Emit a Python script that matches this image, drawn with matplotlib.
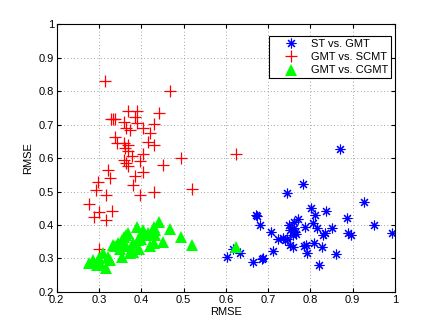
import matplotlib
matplotlib.use("Agg")
import matplotlib.pyplot as plt

plt.rcParams['font.family'] = ['Liberation Sans', 'DejaVu Sans']

# ST vs. GMT (blue asterisks)
st_x = [0.871, 0.783, 0.745, 0.927, 0.802, 0.836, 0.811, 0.886, 0.771, 0.760,
        0.807, 0.951, 0.750, 0.815, 0.787, 0.850, 0.752, 0.763, 0.758, 0.767,
        0.706, 0.890, 0.896, 0.994, 0.830, 0.835, 0.724, 0.736, 0.744, 0.740,
        0.751, 0.758, 0.784, 0.789, 0.809, 0.828, 0.791, 0.860, 0.712, 0.821,
        0.671, 0.673, 0.681, 0.602, 0.618, 0.634, 0.664, 0.685, 0.689, 0.760]
st_y = [0.626, 0.522, 0.497, 0.469, 0.450, 0.442, 0.430, 0.421, 0.418, 0.410,
        0.407, 0.399, 0.400, 0.392, 0.395, 0.392, 0.385, 0.380, 0.370, 0.372,
        0.380, 0.377, 0.370, 0.375, 0.370, 0.375, 0.357, 0.360, 0.358, 0.356,
        0.340, 0.333, 0.337, 0.340, 0.345, 0.333, 0.317, 0.313, 0.323, 0.280,
        0.430, 0.428, 0.400, 0.303, 0.327, 0.315, 0.290, 0.297, 0.300, 0.390]

# GMT vs. SCMT (red plus)
scmt_x = [0.314, 0.469, 0.369, 0.389, 0.441, 0.328, 0.334, 0.338, 0.358, 0.385,
          0.389, 0.429, 0.405, 0.365, 0.373, 0.421, 0.417, 0.429, 0.338, 0.342,
          0.358, 0.369, 0.362, 0.369, 0.377, 0.405, 0.495, 0.625, 0.358, 0.365,
          0.369, 0.397, 0.451, 0.405, 0.385, 0.322, 0.326, 0.381, 0.297, 0.293,
          0.429, 0.397, 0.317, 0.521, 0.277, 0.299, 0.330, 0.288, 0.317, 0.301]
scmt_y = [0.830, 0.802, 0.741, 0.741, 0.734, 0.718, 0.718, 0.716, 0.709, 0.724,
          0.704, 0.701, 0.689, 0.689, 0.684, 0.676, 0.649, 0.639, 0.664, 0.644,
          0.644, 0.639, 0.629, 0.620, 0.605, 0.612, 0.600, 0.612, 0.595, 0.585,
          0.575, 0.590, 0.580, 0.557, 0.545, 0.565, 0.540, 0.520, 0.530, 0.505,
          0.500, 0.490, 0.490, 0.508, 0.462, 0.439, 0.443, 0.423, 0.415, 0.327]

# GMT vs. CGMT (green triangles)
cgmt_x = [0.277, 0.287, 0.299, 0.295, 0.302, 0.310, 0.317, 0.322, 0.326, 0.334,
          0.338, 0.346, 0.354, 0.354, 0.358, 0.365, 0.369, 0.365, 0.373, 0.377,
          0.381, 0.389, 0.393, 0.397, 0.405, 0.417, 0.421, 0.425, 0.429, 0.433,
          0.429, 0.441, 0.433, 0.451, 0.469, 0.495, 0.521, 0.625, 0.380, 0.395,
          0.349, 0.410, 0.400]
cgmt_y = [0.286, 0.296, 0.300, 0.280, 0.286, 0.315, 0.271, 0.305, 0.296, 0.340,
          0.336, 0.345, 0.305, 0.355, 0.365, 0.370, 0.375, 0.336, 0.315, 0.330,
          0.345, 0.393, 0.355, 0.365, 0.385, 0.375, 0.336, 0.370, 0.395, 0.385,
          0.345, 0.410, 0.370, 0.350, 0.388, 0.365, 0.339, 0.334, 0.320, 0.328,
          0.328, 0.370, 0.358]

ticks = [0.2, 0.3, 0.4, 0.5, 0.6, 0.7, 0.8, 0.9, 1]
tick_labels = ['0.2', '0.3', '0.4', '0.5', '0.6', '0.7', '0.8', '0.9', '1']

fig = plt.figure(figsize=(4.36, 3.28), dpi=100)
ax = fig.add_axes([0.130, 0.110, 0.776, 0.816])

ax.plot(st_x, st_y, linestyle='none', marker=(8, 2, 0), color='#0000ff',
        markersize=7, markeredgewidth=0.8, label='ST vs. GMT')
ax.plot(scmt_x, scmt_y, linestyle='none', marker='+', color='#ff0000',
        markeredgecolor='#ff0000', markersize=8, markeredgewidth=0.9,
        label='GMT vs. SCMT')
ax.plot(cgmt_x, cgmt_y, linestyle='none', marker='^', color='#00ff00',
        markersize=9, markeredgewidth=0, label='GMT vs. CGMT')

ax.set_xlim(0.2, 1)
ax.set_ylim(0.2, 1)
ax.set_xticks(ticks)
ax.set_xticklabels(tick_labels)
ax.set_yticks(ticks)
ax.set_yticklabels(tick_labels)
ax.tick_params(direction='in', length=3, labelsize=8, top=True, right=True)
ax.tick_params(axis='x', pad=2.5)
ax.tick_params(axis='y', pad=2)
ax.grid(True, linestyle=(0, (1, 3)), color='#888888', linewidth=0.6)
for s in ax.spines.values():
    s.set_linewidth(0.8)

ax.set_xlabel('RMSE', fontsize=8, labelpad=1)
ax.set_ylabel('RMSE', fontsize=8, labelpad=4)

leg = ax.legend(loc='upper right', bbox_to_anchor=(0.988, 0.956), borderaxespad=0,
                fontsize=8, fancybox=False, framealpha=1, edgecolor='black',
                handletextpad=0.1, handlelength=3.4, borderpad=0.25,
                labelspacing=0.3, numpoints=1)
leg.get_frame().set_linewidth(0.8)

fig.savefig('out.png', dpi=100)
